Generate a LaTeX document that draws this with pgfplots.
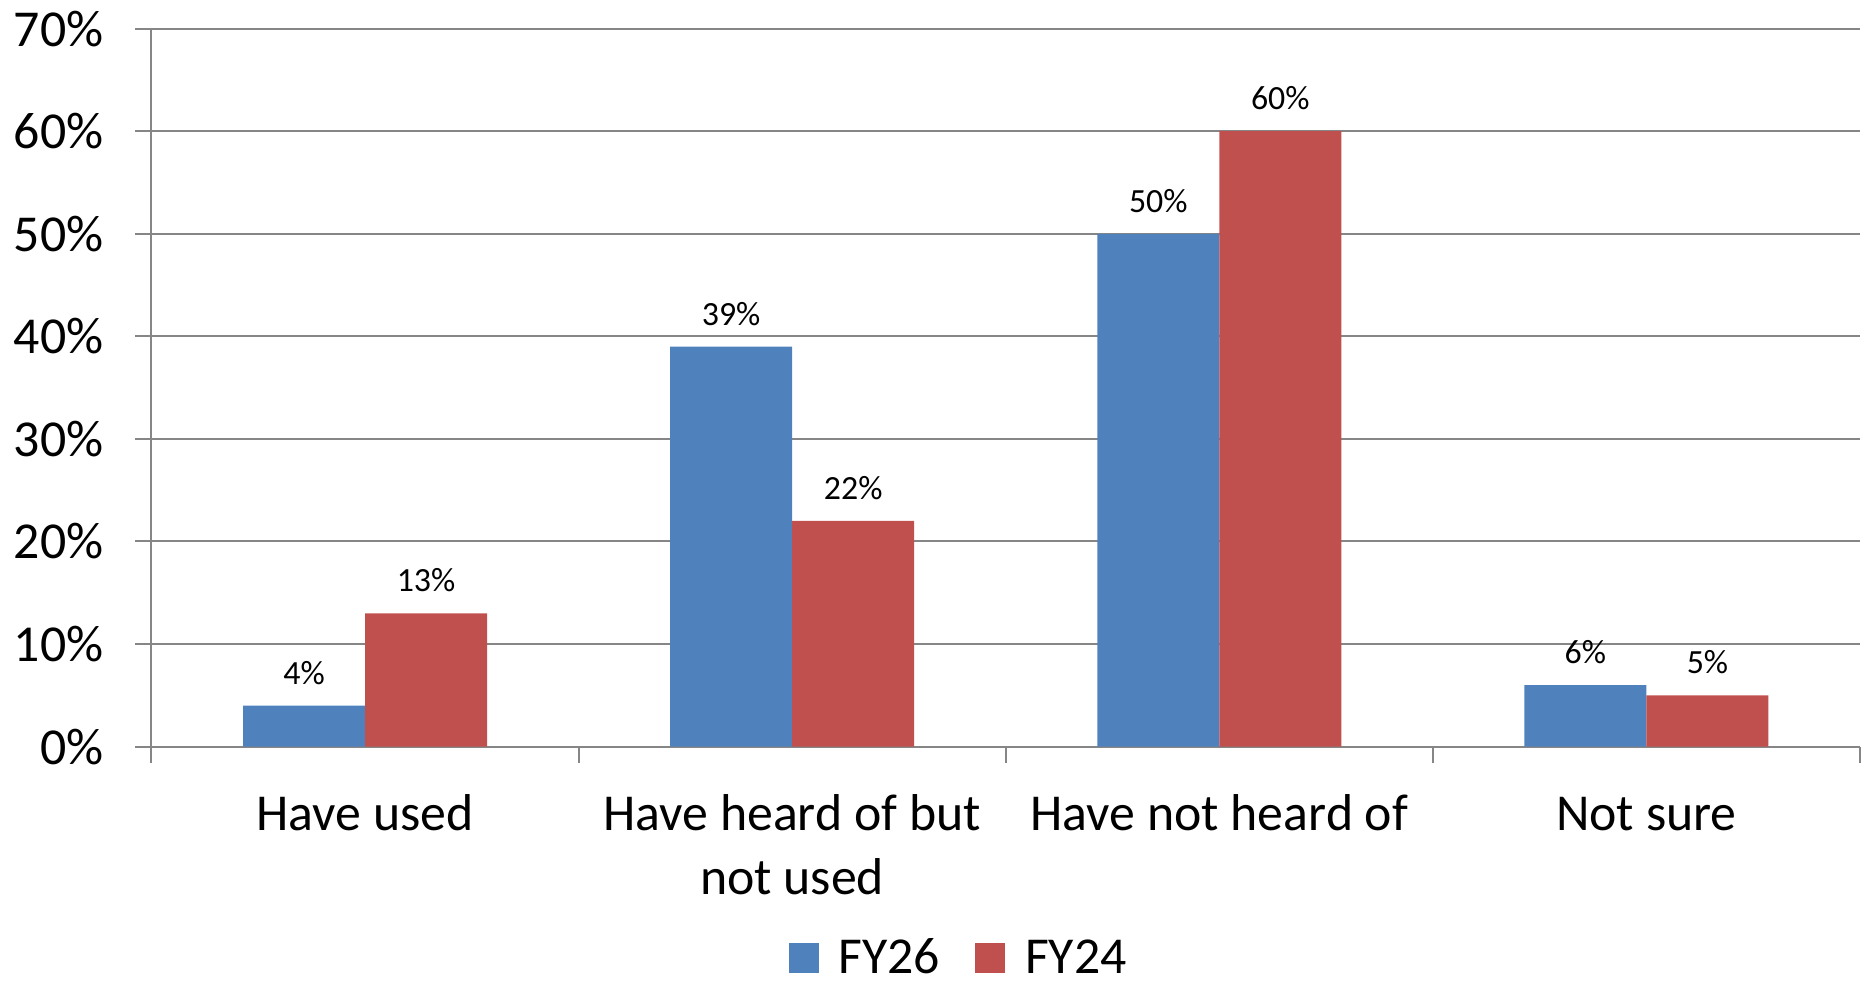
\documentclass[border=0pt]{standalone}
\usepackage{fontspec}
\setmainfont{Carlito}
\usepackage{pgfplots}
\pgfplotsset{compat=1.18}
\definecolor{fyblue}{HTML}{4F81BD}
\definecolor{fyred}{HTML}{C0504D}
\definecolor{gridgray}{HTML}{868686}
\begin{document}
\begin{tikzpicture}
\useasboundingbox (-75.75bp,-119.7bp) rectangle (859.25bp,373.3bp);
\begin{axis}[
  at={(0,0)}, anchor=south west,
  scale only axis,
  width=854.25bp, height=359bp,
  ybar, bar width=0.2857,
  xmin=-0.5, xmax=3.5, ymin=0, ymax=70,
  axis x line*=bottom, axis y line*=left,
  axis line style={-, draw=gridgray, line width=1bp},
  ymajorgrids, grid style={draw=gridgray, line width=1bp},
  ytick={0,10,...,70},
  yticklabel={\pgfmathprintnumber{\tick}\%},
  /pgf/number format/assume math mode=true,
  xtick={0,1,2,3},
  xticklabels={Have used, {Have heard of but\\not used}, Have not heard of, Not sure},
  minor xtick={-0.5,0.5,1.5,2.5,3.5},
  tick align=outside,
  major tick length=8bp, minor tick length=8bp,
  tick style={draw=gridgray, line width=1bp},
  major x tick style={draw=none},
  typeset ticklabels with strut,
  tick label style={font=\fontsize{26}{31.7}\selectfont},
  yticklabel style={xshift=-12.5bp},
  xticklabel style={align=center, yshift=-8.5bp},
  nodes near coords={\pgfmathprintnumber{\pgfplotspointmeta}\%},
  nodes near coords style={font=\fontsize{17}{20}\selectfont, yshift=7bp, text=black},
  legend columns=2,
  legend style={at={(0.473,-0.294)}, anchor=center, draw=none, fill=none,
    font=\fontsize{26}{31.7}\selectfont,
    /tikz/every odd column/.append style={column sep=8bp},
    /tikz/every even column/.append style={column sep=15.5bp}},
  legend image code/.code={\fill[#1] (0bp,-7.5bp) rectangle (15bp,7.5bp);},
]
\addplot[fill=fyblue, draw=none, bar shift=-0.142857] coordinates {(0,4) (1,39) (2,50) (3,6)};
\addplot[fill=fyred, draw=none, bar shift=0.142857] coordinates {(0,13) (1,22) (2,60) (3,5)};
\legend{FY26, FY24}
\end{axis}
\end{tikzpicture}
\end{document}
